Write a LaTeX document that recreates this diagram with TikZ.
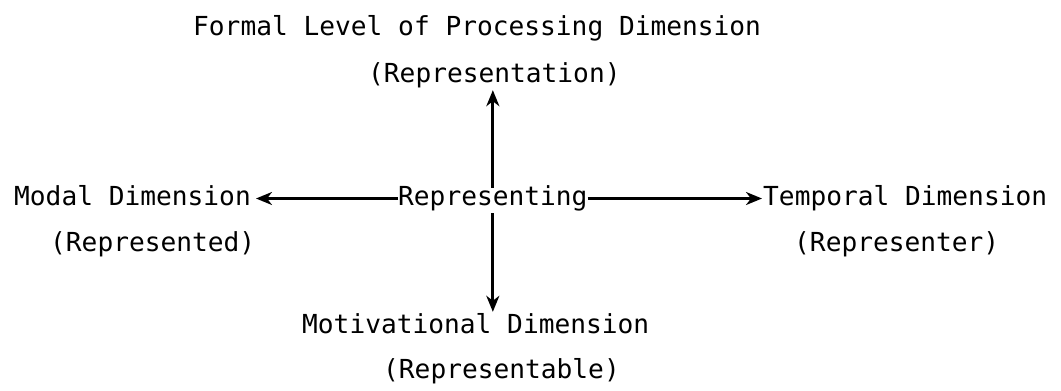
\documentclass[tikz,border=0pt]{standalone}
\usepackage{fontspec}
\newfontfamily\typefont{DejaVu Sans Mono}
\usetikzlibrary{arrows.meta,calc}

\begin{document}
\begin{tikzpicture}[x=1pt, y=-1pt, every node/.style={font=\typefont\fontsize{26.2}{30}\selectfont, inner sep=0pt, text height=19pt, text depth=6pt, anchor=base west}]
      \useasboundingbox (0,0) rectangle (1061,391);
      \node (formal) at (193,35) {Formal Level of Processing Dimension};
      \node (repn) at (368,82) {(Representation)};
      \node (rep) at (398,205) {Representing};
      \node (modal) at (14,205) {Modal Dimension};
      \node (repd) at (50,251) {(Represented)};
      \node (temp) at (763,205) {Temporal Dimension};
      \node (repr) at (794,251) {(Representer)};
      \node (motiv) at (302,333) {Motivational Dimension};
      \node (repb) at (383,378) {(Representable)};
      \draw[-{Stealth[length=16pt,width=13pt,inset=5pt]}, line width=2.5pt, shorten >=5pt] (rep.west) -- (modal.east);
      \draw[-{Stealth[length=16pt,width=13pt,inset=5pt]}, line width=2.5pt, shorten >=1pt] (rep.east) -- (temp.west);
      \draw[-{Stealth[length=16pt,width=13pt,inset=5pt]}, line width=3pt] ($(rep.north)+(0,2)$) -- ($(rep.north |- repn.south)+(0,2)$);
      \draw[-{Stealth[length=16pt,width=13pt,inset=5pt]}, line width=3pt] ($(rep.south)+(0,2)$) -- ($(rep.south |- motiv.north)+(0,-2)$);
    \end{tikzpicture}
\end{document}
